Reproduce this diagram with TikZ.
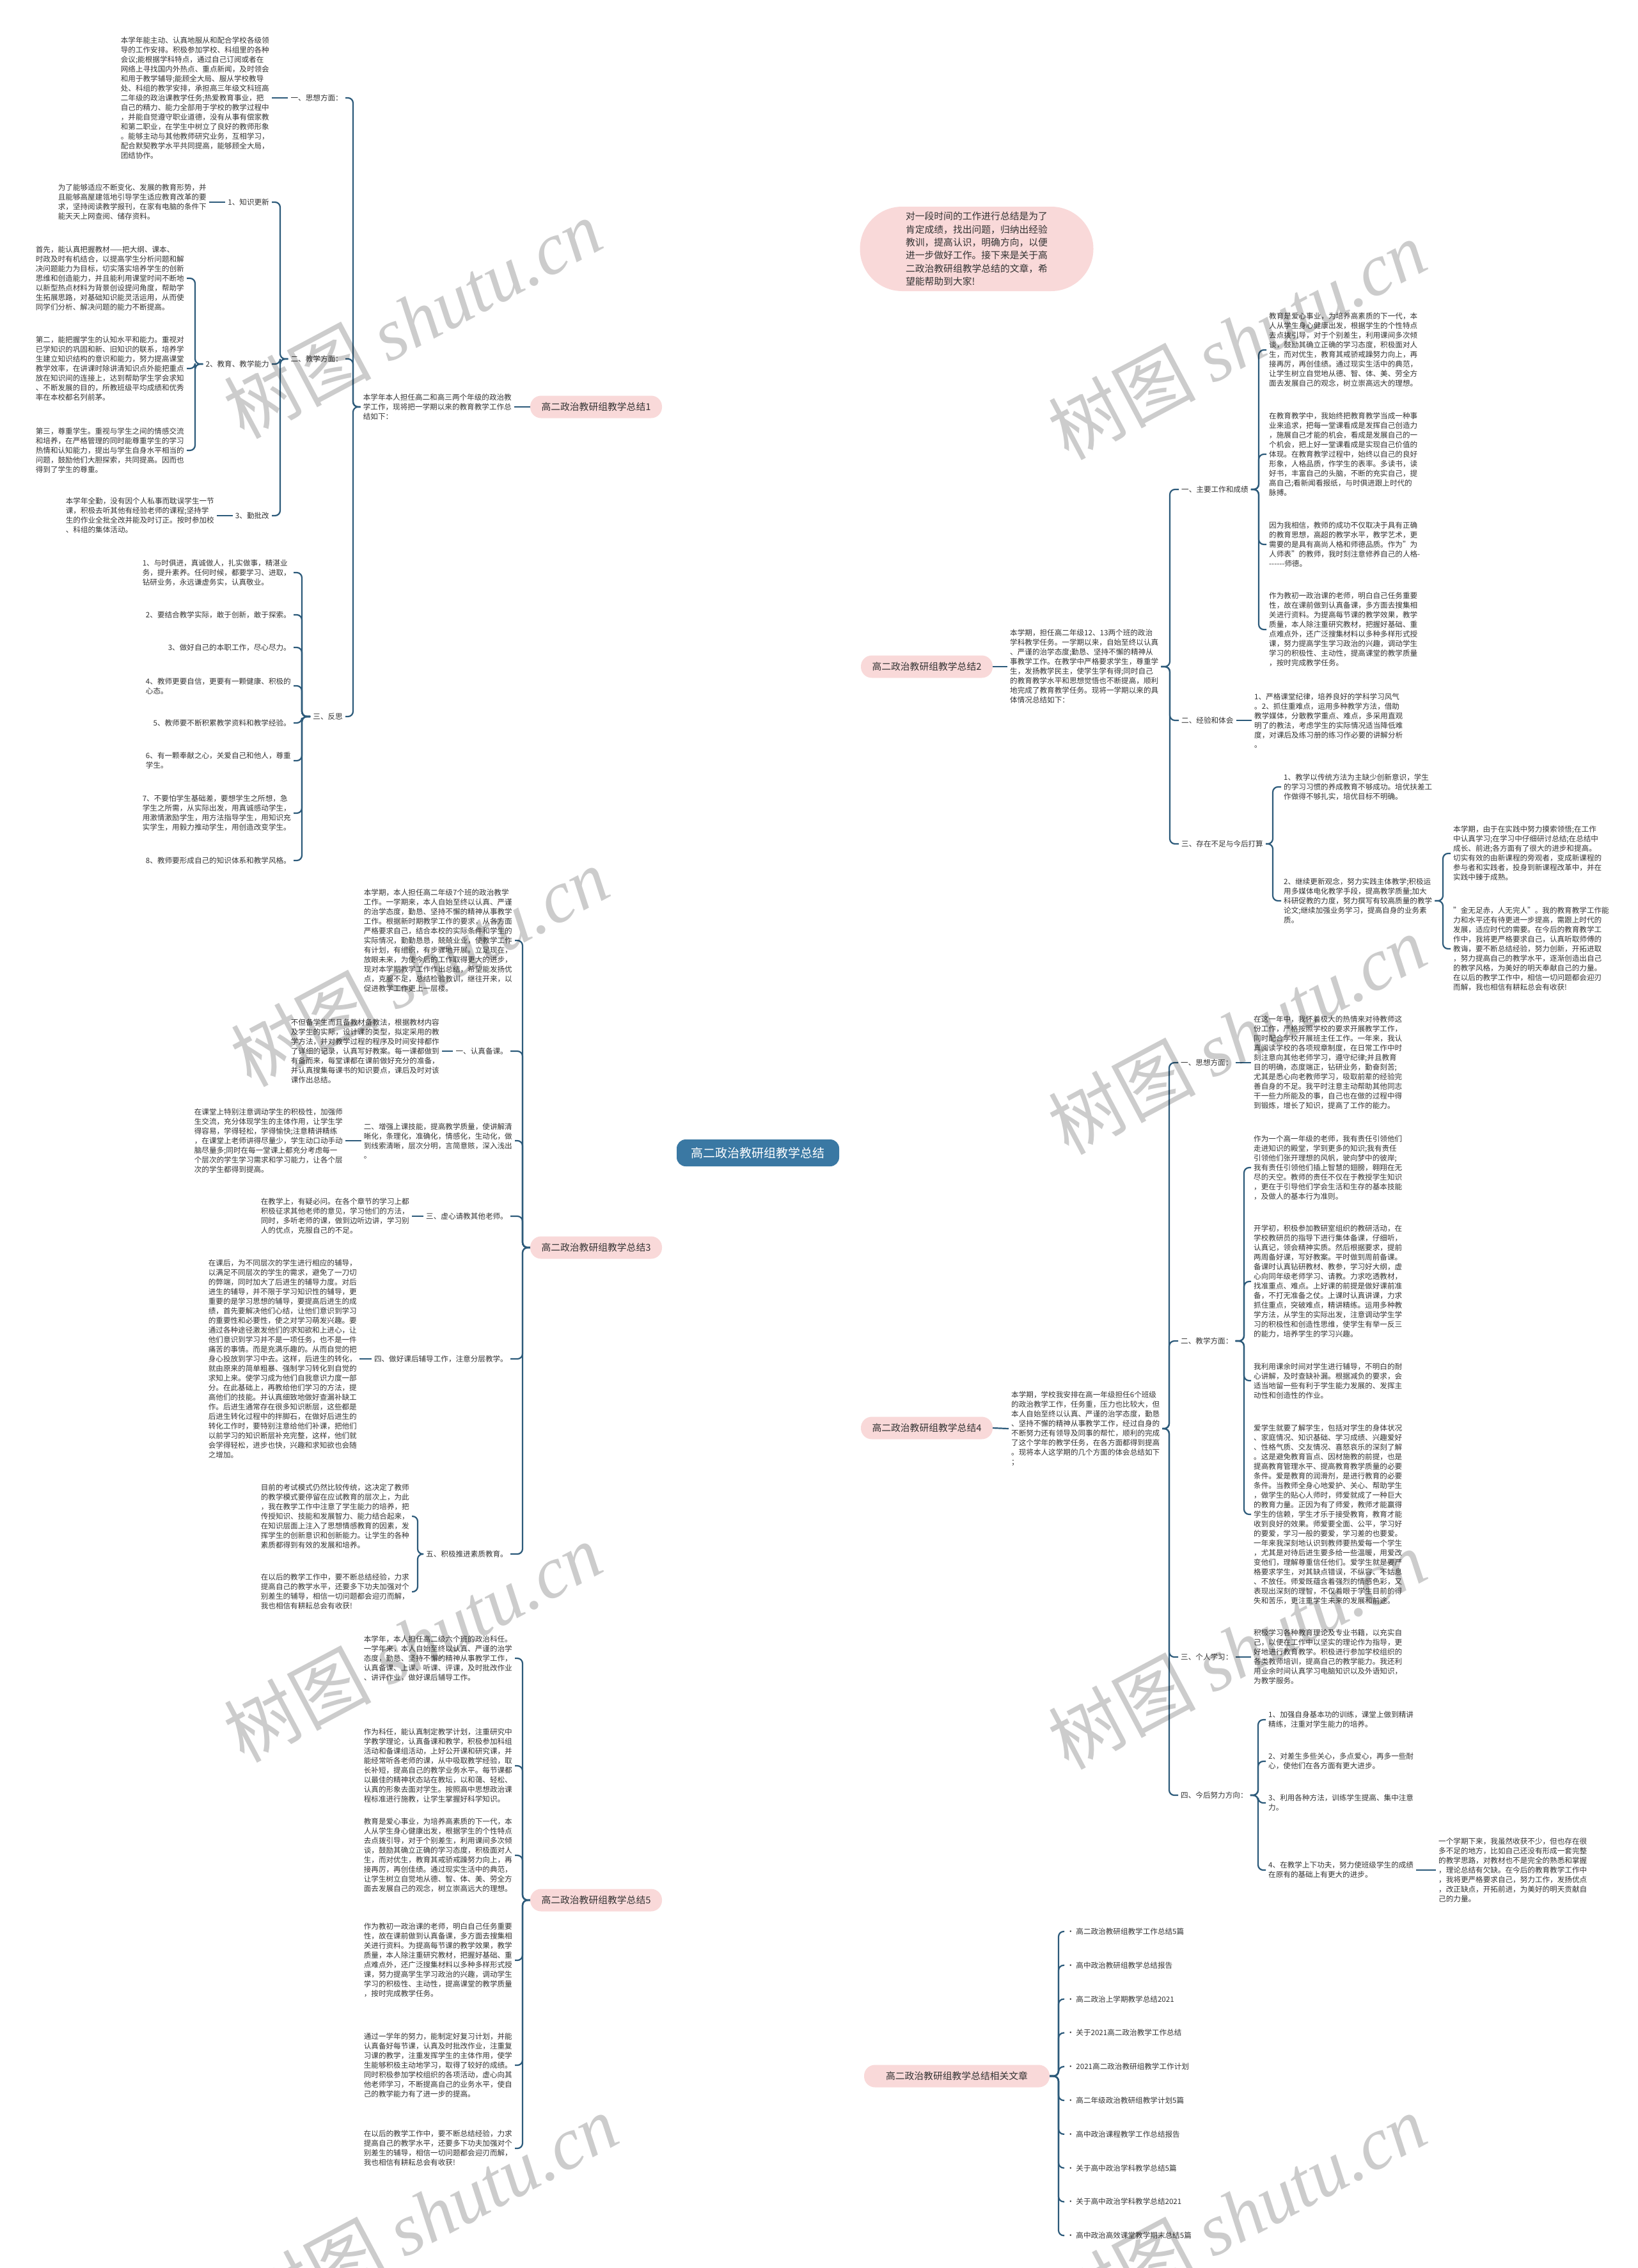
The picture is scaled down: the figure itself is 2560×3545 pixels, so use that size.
\documentclass[tikz,border=0pt]{standalone}
\usepackage{fontspec}
\setmainfont{Noto Sans CJK SC}
\newfontfamily\wmfont{Liberation Serif}
\usetikzlibrary{backgrounds}
\definecolor{ln}{RGB}{44,90,122}
\definecolor{pk}{RGB}{249,217,217}
\definecolor{rootc}{RGB}{58,120,163}
\definecolor{tx}{RGB}{51,51,51}
\tikzset{
  conn/.style={draw=ln, line width=2.2pt, rounded corners=8pt},
  curv/.style={draw=ln, line width=2.8pt},
  txt/.style={font=\fontsize{11.6}{15}\selectfont, text=tx, align=left, inner xsep=4pt, inner ysep=2pt},
  pill/.style={fill=pk, rounded corners=17pt, minimum width=206pt, minimum height=35pt, font=\fontsize{14.8}{18}\selectfont, text=tx, inner sep=0pt},
  intro/.style={fill=pk, rounded corners=66pt, minimum width=365pt, minimum height=132pt, font=\fontsize{14.8}{20.3}\selectfont, text=tx, align=left, inner sep=0pt},
  rootn/.style={fill=rootc, rounded corners=14pt, minimum width=254pt, minimum height=42pt, font=\fontsize{19}{22}\selectfont, text=white, inner sep=0pt},
  wm/.style={font=\fontsize{115}{120}\selectfont, text=black, opacity=0.2, rotate=28}
}
\begin{document}
\begin{tikzpicture}[x=1pt,y=-1pt]
\useasboundingbox[fill=white] (0,0) rectangle (2560,3545);

% ---------------- root and first level ----------------
\node[rootn] (R) at (1185,1802) {高二政治教研组教学总结};
\node[intro] (IN) at (1527,389) {对一段时间的工作进行总结是为了\\肯定成绩，找出问题，归纳出经验\\教训，提高认识，明确方向，以便\\进一步做好工作。接下来是关于高\\二政治教研组教学总结的文章，希\\望能帮助到大家!};
\node[pill] (P1) at (932,636) {高二政治教研组教学总结1};
\node[pill] (P2) at (1449,1042) {高二政治教研组教学总结2};
\node[pill] (P3) at (932,1950) {高二政治教研组教学总结3};
\node[pill] (P4) at (1449,2232) {高二政治教研组教学总结4};
\node[pill] (P5) at (932,2970) {高二政治教研组教学总结5};
\node[pill, minimum width=290pt] (P6) at (1496,3245) {高二政治教研组教学总结相关文章};

\begin{pgfonlayer}{background}
\draw[curv] (R.center) .. controls (1185,672) and (1217,389) .. (IN.west);
\draw[curv] (R.center) .. controls (1185,869) and (1155,636) .. (P1.east);
\draw[curv] (R.center) .. controls (1185,1194) and (1217,1042) .. (P2.west);
\draw[curv] (R.center) .. controls (1185,1920) and (1155,1950) .. (P3.east);
\draw[curv] (R.center) .. controls (1185,2146) and (1217,2232) .. (P4.west);
\draw[curv] (R.center) .. controls (1185,2736) and (1155,2970) .. (P5.east);
\draw[curv] (R.center) .. controls (1185,2956) and (1218,3245) .. (P6.west);
\end{pgfonlayer}

% ---------------- branch 1 ----------------
\node[txt,anchor=east] (I1) at (804,636) {本学年本人担任高二和高三两个年级的政治教\\学工作，现将把一学期以来的教育教学工作总\\结如下：};
\draw[conn] (P1.west) -- (I1.east);
\coordinate (B1) at (552,0);
\node[txt,anchor=east] (A1) at (540,153) {一、思想方面：};
\node[txt,anchor=east] (A1t) at (425,153) {本学年能主动、认真地服从和配合学校各级领\\导的工作安排。积极参加学校、科组里的各种\\会议;能根据学科特点，通过自己订阅或者在\\网络上寻找国内外热点、重点新闻，及时领会\\和用于教学辅导;能顾全大局、服从学校教导\\处、科组的教学安排，承担高三年级文科班高\\二年级的政治课教学任务;热爱教育事业，把\\自己的精力、能力全部用于学校的教学过程中\\，并能自觉遵守职业道德，没有从事有偿家教\\和第二职业，在学生中树立了良好的教师形象\\。能够主动与其他教师研究业务，互相学习，\\配合默契教学水平共同提高，能够顾全大局，\\团结协作。};
\draw[conn] (A1.west) -- (A1t.east);
\node[txt,anchor=east] (A2) at (540,561) {二、教学方面：};
\node[txt,anchor=east] (A3) at (540,1120) {三、反思};
\draw[conn] (I1.west) -- (I1.west -| B1) |- (A1.east);
\draw[conn] (I1.west) -- (I1.west -| B1) |- (A2.east);
\draw[conn] (I1.west) -- (I1.west -| B1) |- (A3.east);

\coordinate (B1b) at (438,0);
\node[txt,anchor=east] (A21) at (425,316) {1、知识更新};
\node[txt,anchor=east] (A21t) at (327,316) {为了能够适应不断变化、发展的教育形势，并\\且能够高屋建瓴地引导学生适应教育改革的要\\求，坚持阅读教学报刊，在家有电脑的条件下\\能天天上网查阅、储存资料。};
\draw[conn] (A21.west) -- (A21t.east);
\node[txt,anchor=east] (A22) at (425,569) {2、教育、教学能力};
\node[txt,anchor=east] (A23) at (425,806) {3、勤批改};
\node[txt,anchor=east] (A23t) at (339,806) {本学年全勤，没有因个人私事而耽误学生一节\\课，积极去听其他有经验老师的课程;坚持学\\生的作业全批全改并能及时订正。按时参加校\\、科组的集体活动。};
\draw[conn] (A23.west) -- (A23t.east);
\draw[conn] (A2.west) -- (A2.west -| B1b) |- (A21.east);
\draw[conn] (A2.west) -- (A2.west -| B1b) |- (A22.east);
\draw[conn] (A2.west) -- (A2.west -| B1b) |- (A23.east);

\coordinate (B1c) at (305,0);
\node[txt,anchor=east] (A22a) at (292,435) {首先，能认真把握教材——把大纲、课本、\\时政及时有机结合，以提高学生分析问题和解\\决问题能力为目标，切实落实培养学生的创新\\思维和创造能力，并且能利用课堂时间不断地\\以新型热点材料为背景创设提问角度，帮助学\\生拓展思路，对基础知识能灵活运用，从而使\\同学们分析、解决问题的能力不断提高。};
\node[txt,anchor=east] (A22b) at (292,576) {第二，能把握学生的认知水平和能力。重视对\\已学知识的巩固和新、旧知识的联系，培养学\\生建立知识结构的意识和能力，努力提高课堂\\教学效率，在讲课时除讲清知识点外能把重点\\放在知识间的连接上，达到帮助学生学会求知\\、不断发展的目的，所教班级平均成绩和优秀\\率在本校都名列前茅。};
\node[txt,anchor=east] (A22c) at (292,704) {第三，尊重学生。重视与学生之间的情感交流\\和培养，在严格管理的同时能尊重学生的学习\\热情和认知能力，提出与学生自身水平相当的\\问题，鼓励他们大胆探索，共同提高。因而也\\得到了学生的尊重。};
\draw[conn] (A22.west) -- (A22.west -| B1c) |- (A22a.east);
\draw[conn] (A22.west) -- (A22.west -| B1c) |- (A22b.east);
\draw[conn] (A22.west) -- (A22.west -| B1c) |- (A22c.east);

\coordinate (B1d) at (472,0);
\node[txt,anchor=east] (F1) at (459,895) {1、与时俱进，真诚做人，扎实做事，精湛业\\务，提升素养。任何时候，都要学习、进取，\\钻研业务，永远谦虚务实，认真敬业。};
\node[txt,anchor=east] (F2) at (459,961) {2、要结合教学实际，敢于创新，敢于探索。};
\node[txt,anchor=east] (F3) at (459,1012) {3、做好自己的本职工作，尽心尽力。};
\node[txt,anchor=east] (F4) at (459,1072) {4、教师更要自信，更要有一颗健康、积极的\\心态。};
\node[txt,anchor=east] (F5) at (459,1130) {5、教师要不断积累教学资料和教学经验。};
\node[txt,anchor=east] (F6) at (459,1189) {6、有一颗奉献之心，关爱自己和他人，尊重\\学生。};
\node[txt,anchor=east] (F7) at (459,1271) {7、不要怕学生基础差，要想学生之所想，急\\学生之所需，从实际出发，用真诚感动学生，\\用激情激励学生，用方法指导学生，用知识充\\实学生，用毅力推动学生，用创造改变学生。};
\node[txt,anchor=east] (F8) at (459,1345) {8、教师要形成自己的知识体系和教学风格。};
\foreach \f in {F1,F2,F3,F4,F5,F6,F7,F8}{\draw[conn] (A3.west) -- (A3.west -| B1d) |- (\f.east);}

% ---------------- branch 2 ----------------
\node[txt,anchor=west] (I2) at (1575,1042) {本学期，担任高二年级12、13两个班的政治\\学科教学任务。一学期以来，自始至终以认真\\、严谨的治学态度;勤恳、坚持不懈的精神从\\事教学工作。在教学中严格要求学生，尊重学\\生，发扬教学民主，使学生学有得;同时自己\\的教育教学水平和思想觉悟也不断提高，顺利\\地完成了教育教学任务。现将一学期以来的具\\体情况总结如下：};
\draw[conn] (P2.east) -- (I2.west);
\coordinate (B2) at (1829,0);
\node[txt,anchor=west] (C1) at (1843,765) {一、主要工作和成绩};
\node[txt,anchor=west] (C2) at (1843,1126) {二、经验和体会};
\node[txt,anchor=west] (C3) at (1843,1319) {三、存在不足与今后打算};
\draw[conn] (I2.east) -- (I2.east -| B2) |- (C1.west);
\draw[conn] (I2.east) -- (I2.east -| B2) |- (C2.west);
\draw[conn] (I2.east) -- (I2.east -| B2) |- (C3.west);

\coordinate (B2a) at (1968,0);
\node[txt,anchor=west] (C1a) at (1980,547) {教育是爱心事业，为培养高素质的下一代，本\\人从学生身心健康出发，根据学生的个性特点\\去点拨引导，对于个别差生，利用课间多次倾\\谈，鼓励其确立正确的学习态度，积极面对人\\生，而对优生，教育其戒骄戒躁努力向上，再\\接再厉，再创佳绩。通过现实生活中的典范，\\让学生树立自觉地从德、智、体、美、劳全方\\面去发展自己的观念，树立崇高远大的理想。};
\node[txt,anchor=west] (C1b) at (1980,710) {在教育教学中，我始终把教育教学当成一种事\\业来追求，把每一堂课看成是发挥自己创造力\\，施展自己才能的机会，看成是发展自己的一\\个机会，把上好一堂课看成是实现自己价值的\\体现。在教育教学过程中，始终以自己的良好\\形象，人格品质，作学生的表率。多读书，读\\好书，丰富自己的头脑，不断的充实自己，提\\高自己;看新闻看报纸，与时俱进跟上时代的\\脉搏。};
\node[txt,anchor=west] (C1c) at (1980,851) {因为我相信，教师的成功不仅取决于具有正确\\的教育思想，高超的教学水平，教学艺术，更\\需要的是具有高尚人格和师德品质。作为"为\\人师表"的教师，我时刻注意修养自己的人格-\\-{}-{}-{}-{}-{}-师德。};
\node[txt,anchor=west] (C1d) at (1980,984) {作为教初一政治课的老师，明白自己任务重要\\性，故在课前做到认真备课，多方面去搜集相\\关进行资料。为提高每节课的教学效果，教学\\质量，本人除注重研究教材，把握好基础、重\\点难点外，还广泛搜集材料以多种多样形式授\\课，努力提高学生学习政治的兴趣，调动学生\\学习的积极性、主动性，提高课堂的教学质量\\，按时完成教学任务。};
\foreach \c in {C1a,C1b,C1c,C1d}{\draw[conn] (C1.east) -- (C1.east -| B2a) |- (\c.west);}

\node[txt,anchor=west] (C2t) at (1957,1126) {1、严格课堂纪律，培养良好的学科学习风气\\。2、抓住重难点，运用多种教学方法，借助\\教学媒体，分散教学重点、难点，多采用直观\\明了的教法，考虑学生的实际情况适当降低难\\度，对课后及练习册的练习作必要的讲解分析\\。};
\draw[conn] (C2.east) -- (C2t.west);

\coordinate (B2c) at (1990,0);
\node[txt,anchor=west] (C3a) at (2003,1230) {1、教学以传统方法为主缺少创新意识，学生\\的学习习惯的养成教育不够成功。培优扶差工\\作做得不够扎实，培优目标不明确。};
\node[txt,anchor=west] (C3b) at (2003,1408) {2、继续更新观念，努力实践主体教学;积极运\\用多媒体电化教学手段，提高教学质量;加大\\科研促教的力度，努力撰写有较高质量的教学\\论文;继续加强业务学习，提高自身的业务素\\质。};
\draw[conn] (C3.east) -- (C3.east -| B2c) |- (C3a.west);
\draw[conn] (C3.east) -- (C3.east -| B2c) |- (C3b.west);
\coordinate (B2d) at (2256,0);
\node[txt,anchor=west] (C3b1) at (2268,1334) {本学期，由于在实践中努力摸索领悟;在工作\\中认真学习;在学习中仔细研讨总结;在总结中\\成长、前进;各方面有了很大的进步和提高。\\切实有效的由新课程的旁观者，变成新课程的\\参与者和实践者，投身到新课程改革中，并在\\实践中臻于成熟。};
\node[txt,anchor=west] (C3b2) at (2268,1483) {"金无足赤，人无完人"。我的教育教学工作能\\力和水平还有待更进一步提高，需跟上时代的\\发展，适应时代的需要。在今后的教育教学工\\作中，我将更严格要求自己，认真听取师傅的\\教诲，要不断总结经验，努力创新，开拓进取\\，努力提高自己的教学水平，逐渐创造出自己\\的教学风格，为美好的明天奉献自己的力量。\\在以后的教学工作中，相信一切问题都会迎刃\\而解，我也相信有耕耘总会有收获!};
\draw[conn] (C3b.east) -- (C3b.east -| B2d) |- (C3b1.west);
\draw[conn] (C3b.east) -- (C3b.east -| B2d) |- (C3b2.west);

% ---------------- branch 3 ----------------
\coordinate (B3) at (817,0);
\node[txt,anchor=east] (D0) at (805,1470) {本学期，本人担任高二年级7个班的政治教学\\工作。一学期来，本人自始至终以认真、严谨\\的治学态度，勤恳、坚持不懈的精神从事教学\\工作。根据新时期教学工作的要求，从各方面\\严格要求自己，结合本校的实际条件和学生的\\实际情况，勤勤恳恳，兢兢业业，使教学工作\\有计划，有组织，有步骤地开展。立足现在，\\放眼未来，为使今后的工作取得更大的进步，\\现对本学期教学工作作出总结，希望能发扬优\\点，克服不足，总结检验教训，继往开来，以\\促进教学工作更上一层楼。};
\node[txt,anchor=east] (D1) at (798,1643) {一、认真备课。};
\node[txt,anchor=east] (D1t) at (691,1643) {不但备学生而且备教材备教法，根据教材内容\\及学生的实际，设计课的类型，拟定采用的教\\学方法，并对教学过程的程序及时间安排都作\\了详细的记录，认真写好教案。每一课都做到\\有备而来，每堂课都在课前做好充分的准备，\\并认真搜集每课书的知识要点，课后及时对该\\课作出总结。};
\draw[conn] (D1.west) -- (D1t.east);
\node[txt,anchor=east] (D2) at (805,1783) {二、增强上课技能，提高教学质量，使讲解清\\晰化，条理化，准确化，情感化，生动化，做\\到线索清晰，层次分明，言简意赅，深入浅出\\。};
\node[txt,anchor=east] (D2t) at (540,1783) {在课堂上特别注意调动学生的积极性，加强师\\生交流，充分体现学生的主体作用，让学生学\\得容易，学得轻松，学得愉快;注意精讲精练\\，在课堂上老师讲得尽量少，学生动口动手动\\脑尽量多;同时在每一堂课上都充分考虑每一\\个层次的学生学习需求和学习能力，让各个层\\次的学生都得到提高。};
\draw[conn] (D2.west) -- (D2t.east);
\node[txt,anchor=east] (D3) at (798,1901) {三、虚心请教其他老师。};
\node[txt,anchor=east] (D3t) at (644,1901) {在教学上，有疑必问。在各个章节的学习上都\\积极征求其他老师的意见，学习他们的方法，\\同时，多听老师的课，做到边听边讲，学习别\\人的优点，克服自己的不足。};
\draw[conn] (D3.west) -- (D3t.east);
\node[txt,anchor=east] (D4) at (798,2124) {四、做好课后辅导工作，注意分层教学。};
\node[txt,anchor=east] (D4t) at (562,2124) {在课后，为不同层次的学生进行相应的辅导，\\以满足不同层次的学生的需求，避免了一刀切\\的弊端，同时加大了后进生的辅导力度。对后\\进生的辅导，并不限于学习知识性的辅导，更\\重要的是学习思想的辅导，要提高后进生的成\\绩，首先要解决他们心结，让他们意识到学习\\的重要性和必要性，使之对学习萌发兴趣。要\\通过各种途径激发他们的求知欲和上进心，让\\他们意识到学习并不是一项任务，也不是一件\\痛苦的事情。而是充满乐趣的。从而自觉的把\\身心投放到学习中去。这样，后进生的转化，\\就由原来的简单粗暴、强制学习转化到自觉的\\求知上来。使学习成为他们自我意识力度一部\\分。在此基础上，再教给他们学习的方法，提\\高他们的技能。并认真细致地做好查漏补缺工\\作。后进生通常存在很多知识断层，这些都是\\后进生转化过程中的拌脚石，在做好后进生的\\转化工作时，要特别注意给他们补课，把他们\\以前学习的知识断层补充完整，这样，他们就\\会学得轻松，进步也快，兴趣和求知欲也会随\\之增加。};
\draw[conn] (D4.west) -- (D4t.east);
\node[txt,anchor=east] (D5) at (798,2429) {五、积极推进素质教育。};
\coordinate (B3e) at (653,0);
\node[txt,anchor=east] (D5a) at (644,2370) {目前的考试模式仍然比较传统，这决定了教师\\的教学模式要停留在应试教育的层次上，为此\\，我在教学工作中注意了学生能力的培养，把\\传授知识、技能和发展智力、能力结合起来，\\在知识层面上注入了思想情感教育的因素，发\\挥学生的创新意识和创新能力。让学生的各种\\素质都得到有效的发展和培养。};
\node[txt,anchor=east] (D5b) at (644,2488) {在以后的教学工作中，要不断总结经验，力求\\提高自己的教学水平，还要多下功夫加强对个\\别差生的辅导，相信一切问题都会迎刃而解，\\我也相信有耕耘总会有收获!};
\draw[conn] (D5.west) -- (D5.west -| B3e) |- (D5a.east);
\draw[conn] (D5.west) -- (D5.west -| B3e) |- (D5b.east);
\foreach \d in {D0,D1,D2,D3,D4,D5}{\draw[conn] (P3.west) -- (P3.west -| B3) |- (\d.east);}

% ---------------- branch 4 ----------------
\node[txt,anchor=west] (E0) at (1577,2233) {本学期，学校我安排在高一年级担任6个班级\\的政治教学工作，任务重，压力也比较大，但\\本人自始至终以认真、严谨的治学态度，勤恳\\、坚持不懈的精神从事教学工作，经过自身的\\不断努力还有领导及同事的帮忙，顺利的完成\\了这个学年的教学任务，在各方面都得到提高\\。现将本人这学期的几个方面的体会总结如下\\；};
\draw[conn] (P4.east) -- (E0.west);
\coordinate (B4) at (1828,0);
\node[txt,anchor=west] (E1) at (1842,1661) {一、思想方面：};
\node[txt,anchor=west] (E1t) at (1956,1661) {在这一年中，我怀着极大的热情来对待教师这\\份工作，严格按照学校的要求开展教学工作，\\同时配合学校开展班主任工作。一年来，我认\\真阅读学校的各项规章制度，在日常工作中时\\刻注意向其他老师学习，遵守纪律;并且教育\\目的明确，态度端正，钻研业务，勤奋刻苦;\\尤其是悉心向老教师学习，吸取前辈的经验完\\善自身的不足。我平时注意主动帮助其他同志\\干一些力所能及的事，自己也在做的过程中得\\到锻炼，增长了知识，提高了工作的能力。};
\draw[conn] (E1.east) -- (E1t.west);
\node[txt,anchor=west] (E2) at (1842,2096) {二、教学方面：};
\coordinate (B4b) at (1945,0);
\node[txt,anchor=west] (E2a) at (1956,1825) {作为一个高一年级的老师，我有责任引领他们\\走进知识的殿堂，学到更多的知识;我有责任\\引领他们张开理想的风帆，驶向梦中的彼岸;\\我有责任引领他们插上智慧的翅膀，翱翔在无\\尽的天空。教师的责任不仅在于教授学生知识\\，更在于引导他们学会生活和生存的基本技能\\，及做人的基本行为准则。};
\node[txt,anchor=west] (E2b) at (1956,2003) {开学初，积极参加教研室组织的教研活动，在\\学校教研员的指导下进行集体备课，仔细听，\\认真记，领会精神实质。然后根据要求，提前\\两周备好课，写好教案。平时做到周前备课。\\备课时认真钻研教材、教参，学习好大纲，虚\\心向同年级老师学习、请教。力求吃透教材，\\找准重点、难点。上好课的前提是做好课前准\\备，不打无准备之仗。上课时认真讲课，力求\\抓住重点，突破难点，精讲精练。运用多种教\\学方法，从学生的实际出发，注意调动学生学\\习的积极性和创造性思维，使学生有举一反三\\的能力，培养学生的学习兴趣。};
\node[txt,anchor=west] (E2c) at (1956,2158) {我利用课余时间对学生进行辅导，不明白的耐\\心讲解，及时查缺补漏。根据减负的要求，会\\适当地留一些有利于学生能力发展的、发挥主\\动性和创造性的作业。};
\node[txt,anchor=west] (E2d) at (1956,2367) {爱学生就要了解学生，包括对学生的身体状况\\、家庭情况、知识基础、学习成绩、兴趣爱好\\、性格气质、交友情况、喜怒哀乐的深刻了解\\。这是避免教育盲点、因材施教的前提，也是\\提高教育管理水平、提高教育教学质量的必要\\条件。爱是教育的润滑剂，是进行教育的必要\\条件。当教师全身心地爱护、关心、帮助学生\\，做学生的贴心人师时，师爱就成了一种巨大\\的教育力量。正因为有了师爱，教师才能赢得\\学生的信赖，学生才乐于接受教育，教育才能\\收到良好的效果。师爱要全面、公平，学习好\\的要爱，学习一般的要爱，学习差的也要爱。\\一年来我深刻地认识到教师要热爱每一个学生\\，尤其是对待后进生要多给一些温暖，用爱改\\变他们，理解尊重信任他们。爱学生就是要严\\格要求学生，对其缺点错误，不纵容、不姑息\\、不放任。师爱既蕴含着强烈的情感色彩，又\\表现出深刻的理智，不仅着眼于学生目前的得\\失和苦乐，更注重学生未来的发展和前途。};
\foreach \e in {E2a,E2b,E2c,E2d}{\draw[conn] (E2.east) -- (E2.east -| B4b) |- (\e.west);}
\node[txt,anchor=west] (E3) at (1842,2590) {三、个人学习：};
\node[txt,anchor=west] (E3t) at (1956,2590) {积极学习各种教育理论及专业书籍，以充实自\\己，以便在工作中以坚实的理论作为指导，更\\好地进行教育教学。积极进行参加学校组织的\\各类教师培训，提高自己的教学能力。我还利\\用业余时间认真学习电脑知识以及外语知识，\\为教学服务。};
\draw[conn] (E3.east) -- (E3t.west);
\node[txt,anchor=west] (E4) at (1842,2806) {四、今后努力方向：};
\coordinate (B4d) at (1967,0);
\node[txt,anchor=west] (E4a) at (1979,2688) {1、加强自身基本功的训练，课堂上做到精讲\\精练，注重对学生能力的培养。};
\node[txt,anchor=west] (E4b) at (1979,2753) {2、对差生多些关心，多点爱心，再多一些耐\\心，使他们在各方面有更大进步。};
\node[txt,anchor=west] (E4c) at (1979,2818) {3、利用各种方法，训练学生提高、集中注意\\力。};
\node[txt,anchor=west] (E4d) at (1979,2923) {4、在教学上下功夫，努力使班级学生的成绩\\在原有的基础上有更大的进步。};
\foreach \e in {E4a,E4b,E4c,E4d}{\draw[conn] (E4.east) -- (E4.east -| B4d) |- (\e.west);}
\node[txt,anchor=west] (E4dt) at (2245,2923) {一个学期下来，我虽然收获不少，但也存在很\\多不足的地方，比如自己还没有形成一套完整\\的教学思路，对教材也不是完全的熟悉和掌握\\，理论总结有欠缺。在今后的教育教学工作中\\，我将更严格要求自己，努力工作，发扬优点\\，改正缺点，开拓前进，为美好的明天贡献自\\己的力量。};
\draw[conn] (E4d.east) -- (E4dt.west);
\foreach \e in {E1,E2,E3,E4}{\draw[conn] (E0.east) -- (E0.east -| B4) |- (\e.west);}

% ---------------- branch 5 ----------------
\node[txt,anchor=east] (G1) at (805,2592) {本学年，本人担任高二级六个班的政治科任。\\一学年来，本人自始至终以认真、严谨的治学\\态度，勤恳、坚持不懈的精神从事教学工作，\\认真备课、上课、听课、评课，及时批改作业\\、讲评作业，做好课后辅导工作。};
\node[txt,anchor=east] (G2) at (805,2760) {作为科任，能认真制定教学计划，注重研究中\\学教学理论，认真备课和教学，积极参加科组\\活动和备课组活动，上好公开课和研究课，并\\能经常听各老师的课，从中吸取教学经验，取\\长补短，提高自己的教学业务水平。每节课都\\以最佳的精神状态站在教坛，以和蔼、轻松、\\认真的形象去面对学生。按照高中思想政治课\\程标准进行施教，让学生掌握好科学知识。};
\node[txt,anchor=east] (G3) at (805,2900) {教育是爱心事业，为培养高素质的下一代，本\\人从学生身心健康出发，根据学生的个性特点\\去点拨引导，对于个别差生，利用课间多次倾\\谈，鼓励其确立正确的学习态度，积极面对人\\生，而对优生，教育其戒骄戒躁努力向上，再\\接再厉，再创佳绩。通过现实生活中的典范，\\让学生树立自觉地从德、智、体、美、劳全方\\面去发展自己的观念，树立崇高远大的理想。};
\node[txt,anchor=east] (G4) at (805,3064) {作为教初一政治课的老师，明白自己任务重要\\性，故在课前做到认真备课，多方面去搜集相\\关进行资料。为提高每节课的教学效果，教学\\质量，本人除注重研究教材，把握好基础、重\\点难点外，还广泛搜集材料以多种多样形式授\\课，努力提高学生学习政治的兴趣，调动学生\\学习的积极性、主动性，提高课堂的教学质量\\，按时完成教学任务。};
\node[txt,anchor=east] (G5) at (805,3228) {通过一学年的努力，能制定好复习计划，并能\\认真备好每节课，认真及时批改作业，注重复\\习课的教学，注重发挥学生的主体作用，使学\\生能够积极主动地学习，取得了较好的成绩。\\同时积极参加学校组织的各项活动，虚心向其\\他老师学习，不断提高自己的业务水平，使自\\己的教学能力有了进一步的提高。};
\node[txt,anchor=east] (G6) at (805,3358) {在以后的教学工作中，要不断总结经验，力求\\提高自己的教学水平，还要多下功夫加强对个\\别差生的辅导，相信一切问题都会迎刃而解，\\我也相信有耕耘总会有收获!};
\foreach \g in {G1,G2,G3,G4,G5,G6}{\draw[conn] (P5.west) -- (P5.west -| B3) |- (\g.east);}

% ---------------- related ----------------
\coordinate (B6) at (1655,0);
\foreach \k/\t in {0/高二政治教研组教学工作总结5篇,1/高中政治教研组教学总结报告,2/高二政治上学期教学总结2021,3/关于2021高二政治教学工作总结,4/2021高二政治教研组教学工作计划,5/高二年级政治教研组教学计划5篇,6/高中政治课程教学工作总结报告,7/关于高中政治学科教学总结5篇,8/关于高中政治学科教学总结2021,9/高中政治高效课堂教学期末总结5篇}{
  \node[txt,anchor=west] (H\k) at (1664,3019+52.8*\k) {\textbullet\ \t};
  \draw[conn] (P6.east) -- (P6.east -| B6) |- (H\k.west);
}

% ---------------- watermarks ----------------
\foreach \x/\y in {645/498,1934/531,656/1511,1934/1617,645/2567,1934/2578,670/3460,1934/3460}{
  \node[wm] at (\x,\y) {树图 {\wmfont\itshape shutu.cn}};
}
\end{tikzpicture}
\end{document}
